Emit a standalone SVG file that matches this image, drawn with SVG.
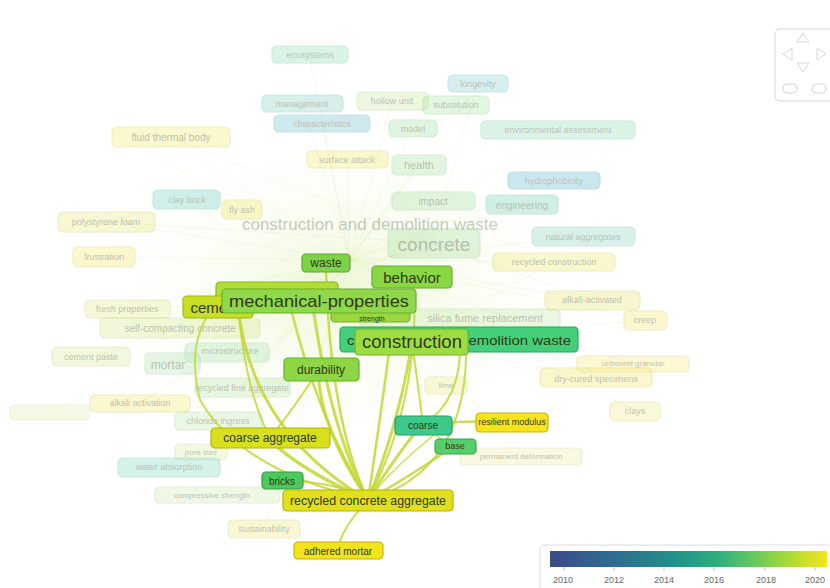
<svg xmlns="http://www.w3.org/2000/svg" width="830" height="588" viewBox="0 0 830 588">
<defs>
<style>
text{font-family:"Liberation Sans",Arial,sans-serif;fill:#2f3a12;text-anchor:middle;dominant-baseline:central}
.f{opacity:0.32}
.n rect,.f rect{stroke-width:1.2}
.bg line,.bg path{stroke:#d3e8a4;stroke-width:0.7;fill:none;opacity:0.3}
.e path{fill:none;stroke:#c3d733;opacity:0.85;stroke-linecap:round}
.nav{fill:none;stroke:#d6d6d6;stroke-width:1}
.lg text{fill:#666;font-size:9px}
</style>
<linearGradient id="vir" x1="0" x2="1" y1="0" y2="0">
<stop offset="0" stop-color="#3b4a8a"/>
<stop offset="0.15" stop-color="#33618d"/>
<stop offset="0.3" stop-color="#2a788e"/>
<stop offset="0.45" stop-color="#21918c"/>
<stop offset="0.6" stop-color="#2cae7e"/>
<stop offset="0.72" stop-color="#5ec662"/>
<stop offset="0.86" stop-color="#a8db34"/>
<stop offset="1" stop-color="#f4e61e"/>
</linearGradient>
<radialGradient id="haze" cx="0.5" cy="0.5" r="0.5">
<stop offset="0" stop-color="#e2f2b8" stop-opacity="0.6"/>
<stop offset="1" stop-color="#ffffff" stop-opacity="0"/>
</radialGradient>
</defs>
<rect width="830" height="588" fill="#ffffff"/>
<ellipse cx="340" cy="290" rx="260" ry="170" fill="url(#haze)"/>
<g id="background-links" class="bg">
<line x1="350" y1="260" x2="309" y2="54"/><line x1="350" y1="260" x2="478" y2="84"/>
<line x1="350" y1="260" x2="302" y2="103"/><line x1="350" y1="260" x2="392" y2="101"/>
<line x1="350" y1="260" x2="456" y2="105"/><line x1="350" y1="260" x2="322" y2="124"/>
<line x1="350" y1="260" x2="413" y2="128"/><line x1="350" y1="260" x2="558" y2="130"/>
<line x1="350" y1="260" x2="171" y2="137"/><line x1="350" y1="260" x2="347" y2="160"/>
<line x1="350" y1="260" x2="419" y2="165"/><line x1="350" y1="260" x2="554" y2="181"/>
<line x1="350" y1="260" x2="187" y2="200"/><line x1="350" y1="260" x2="522" y2="205"/>
<line x1="350" y1="260" x2="106" y2="222"/><line x1="350" y1="260" x2="583" y2="237"/>
<line x1="350" y1="260" x2="554" y2="262"/><line x1="350" y1="260" x2="104" y2="257"/>
<line x1="350" y1="260" x2="127" y2="309"/><line x1="350" y1="260" x2="180" y2="328"/>
<line x1="350" y1="260" x2="592" y2="300"/><line x1="350" y1="260" x2="645" y2="320"/>
<line x1="350" y1="260" x2="91" y2="357"/><line x1="350" y1="260" x2="172" y2="364"/>
<line x1="350" y1="260" x2="242" y2="388"/><line x1="350" y1="260" x2="140" y2="403"/>
<line x1="350" y1="260" x2="218" y2="421"/><line x1="350" y1="260" x2="169" y2="467"/>
<line x1="350" y1="260" x2="217" y2="495"/><line x1="350" y1="260" x2="264" y2="529"/>
<line x1="350" y1="260" x2="633" y2="364"/><line x1="350" y1="260" x2="596" y2="378"/>
<line x1="350" y1="260" x2="635" y2="411"/><line x1="350" y1="260" x2="521" y2="456"/>
<line x1="430" y1="243" x2="171" y2="137"/><line x1="430" y1="243" x2="106" y2="222"/>
<line x1="430" y1="243" x2="309" y2="54"/><line x1="430" y1="243" x2="180" y2="328"/>
<line x1="430" y1="243" x2="592" y2="300"/><line x1="430" y1="243" x2="478" y2="84"/>
<line x1="310" y1="300" x2="127" y2="309"/><line x1="310" y1="300" x2="91" y2="357"/>
<line x1="310" y1="300" x2="242" y2="388"/><line x1="310" y1="300" x2="140" y2="403"/>
<line x1="410" y1="342" x2="596" y2="378"/><line x1="410" y1="342" x2="633" y2="364"/>
<line x1="410" y1="342" x2="645" y2="320"/><line x1="410" y1="342" x2="554" y2="262"/>
<line x1="50" y1="412" x2="300" y2="300"/><line x1="130" y1="137" x2="240" y2="210"/>
</g>
<g id="faded-nodes">
<g id="n-ecosystems" class="f"><rect x="272" y="46" width="76" height="17" rx="5" fill="#8ddcac" stroke="#6cc290"/><text x="310" y="55" font-size="9">ecosystems</text></g>
<g id="n-longevity" class="f"><rect x="448" y="75" width="60" height="17" rx="5" fill="#7fcfd0" stroke="#5fb3b5"/><text x="478" y="84" font-size="9">longevity</text></g>
<g id="n-management" class="f"><rect x="262" y="95" width="81" height="17" rx="5" fill="#7fd3c0" stroke="#5fb7a3"/><text x="302" y="104" font-size="9">management</text></g>
<g id="n-hollow" class="f"><rect x="357" y="92" width="71" height="18" rx="5" fill="#c8e69a" stroke="#a8cc78"/><text x="392" y="101" font-size="9">hollow unit</text></g>
<g id="n-substitution" class="f"><rect x="423" y="96" width="66" height="18" rx="5" fill="#a6e4a0" stroke="#86c880"/><text x="456" y="105" font-size="9">substitution</text></g>
<g id="n-characteristics" class="f"><rect x="274" y="115" width="96" height="17" rx="5" fill="#6cc0c8" stroke="#4ea4ad"/><text x="322" y="124" font-size="9">characteristics</text></g>
<g id="n-model" class="f"><rect x="389" y="120" width="48" height="17" rx="5" fill="#a0e2a0" stroke="#80c680"/><text x="413" y="129" font-size="9">model</text></g>
<g id="n-environmental" class="f"><rect x="481" y="121" width="154" height="18" rx="5" fill="#90dcb8" stroke="#70c09a"/><text x="558" y="130" font-size="9">environmental assessment</text></g>
<g id="n-fluid" class="f"><rect x="112" y="127" width="118" height="20" rx="5" fill="#f2ea6a" stroke="#d2ca4a"/><text x="171" y="137" font-size="10">fluid thermal body</text></g>
<g id="n-surface" class="f"><rect x="307" y="151" width="81" height="17" rx="5" fill="#f2ea6a" stroke="#d2ca4a"/><text x="347" y="160" font-size="9">surface attack</text></g>
<g id="n-health" class="f"><rect x="392" y="155" width="54" height="20" rx="5" fill="#a4e4a4" stroke="#84c884"/><text x="419" y="165" font-size="11">health</text></g>
<g id="n-hydrophobicity" class="f"><rect x="508" y="172" width="92" height="17" rx="5" fill="#5fb6cc" stroke="#4098ae"/><text x="554" y="181" font-size="9">hydrophobicity</text></g>
<g id="n-claybrick" class="f"><rect x="153" y="190" width="67" height="19" rx="5" fill="#6ccfc0" stroke="#50b3a4"/><text x="187" y="200" font-size="9">clay brick</text></g>
<g id="n-engineering" class="f"><rect x="486" y="195" width="72" height="19" rx="5" fill="#70d2b6" stroke="#52b698"/><text x="522" y="205" font-size="10">engineering</text></g>
<g id="n-impact" class="f"><rect x="392" y="192" width="83" height="18" rx="5" fill="#a6e2a0" stroke="#86c680"/><text x="433" y="201" font-size="10">impact</text></g>
<g id="n-flyash" class="f"><rect x="222" y="200" width="40" height="19" rx="5" fill="#eee85a" stroke="#cec83a"/><text x="242" y="210" font-size="9">fly ash</text></g>
<g id="n-polystyrene" class="f"><rect x="58" y="212" width="97" height="20" rx="5" fill="#e8e878" stroke="#c8c858"/><text x="106" y="222" font-size="9">polystyrene foam</text></g>
<g id="n-cdw-text" class="f"><text x="370" y="224" font-size="17" fill="#5d8a20" opacity="0.8">construction and demolition waste</text></g>
<g id="n-concrete" class="f"><rect x="388" y="229" width="92" height="29" rx="6" fill="#a2e09c" stroke="#80c47c"/><text x="434" y="244" font-size="19">concrete</text></g>
<g id="n-natural" class="f"><rect x="532" y="227" width="103" height="19" rx="5" fill="#86d6c0" stroke="#66baa2"/><text x="583" y="237" font-size="9">natural aggregates</text></g>
<g id="n-recycled-construction" class="f"><rect x="493" y="253" width="122" height="18" rx="5" fill="#eeea66" stroke="#cecb46"/><text x="554" y="262" font-size="9">recycled construction</text></g>
<g id="n-frustration" class="f"><rect x="73" y="247" width="62" height="20" rx="5" fill="#f4e868" stroke="#d4c848"/><text x="104" y="257" font-size="9">frustration</text></g>
<g id="n-fresh" class="f"><rect x="85" y="300" width="85" height="18" rx="5" fill="#e4ec84" stroke="#c4cc64"/><text x="127" y="309" font-size="9">fresh properties</text></g>
<g id="n-scc" class="f"><rect x="100" y="318" width="160" height="20" rx="5" fill="#d4ea8c" stroke="#b4ca6c"/><text x="180" y="328" font-size="10">self-compacting concrete</text></g>
<g id="n-silica" class="f"><rect x="360" y="309" width="200" height="19" rx="5" fill="#c4e8a4" stroke="#a4c884"/><text x="485" y="318" font-size="11">silica fume replacement</text></g>
<g id="n-alkali" class="f"><rect x="545" y="291" width="95" height="19" rx="5" fill="#eae56a" stroke="#cac54a"/><text x="592" y="300" font-size="9">alkali-activated</text></g>
<g id="n-creep" class="f"><rect x="624" y="311" width="43" height="19" rx="5" fill="#f4e868" stroke="#d4c848"/><text x="645" y="320" font-size="9">creep</text></g>
<g id="n-paste" class="f"><rect x="52" y="347" width="78" height="19" rx="5" fill="#d8ec9c" stroke="#b8cc7c"/><text x="91" y="357" font-size="9">cement paste</text></g>
<g id="n-microstructure" class="f"><rect x="185" y="343" width="84" height="19" rx="5" fill="#a6e4b0" stroke="#86c890"/><text x="230" y="351" font-size="9">microstructure</text></g>
<g id="n-mortar" class="f"><rect x="145" y="353" width="55" height="21" rx="5" fill="#b2e4b0" stroke="#92c890"/><text x="168" y="365" font-size="12">mortar</text></g>
<g id="n-rfa" class="f"><rect x="195" y="378" width="95" height="19" rx="5" fill="#b8e6a8" stroke="#98ca88"/><text x="242" y="388" font-size="9">recycled fine aggregate</text></g>
<g id="n-activation" class="f"><rect x="90" y="395" width="100" height="17" rx="5" fill="#f4e868" stroke="#d4c848"/><text x="140" y="403" font-size="9">alkali activation</text></g>
<g id="n-pavement" class="f"><rect x="10" y="405" width="80" height="15" rx="5" fill="#e2f0b8" stroke="#c8dc98"/></g>
<g id="n-chloride" class="f"><rect x="175" y="412" width="87" height="18" rx="5" fill="#c0e8b0" stroke="#a0c890"/><text x="218" y="421" font-size="9">chloride ingress</text></g>
<g id="n-pore" class="f"><rect x="175" y="444" width="52" height="16" rx="5" fill="#dcee9c" stroke="#bcce7c"/><text x="201" y="452" font-size="8">pore size</text></g>
<g id="n-water" class="f"><rect x="118" y="458" width="102" height="19" rx="5" fill="#7cd4c0" stroke="#5cb8a2"/><text x="169" y="467" font-size="9">water absorption</text></g>
<g id="n-compressive" class="f"><rect x="155" y="487" width="125" height="16" rx="5" fill="#cceab0" stroke="#accc90"/><text x="212" y="495" font-size="8">compressive strength</text></g>
<g id="n-sustainability" class="f"><rect x="228" y="520" width="72" height="18" rx="5" fill="#f0ea7c" stroke="#d0ca5c"/><text x="264" y="529" font-size="9">sustainability</text></g>
<g id="n-unbound" class="f"><rect x="577" y="356" width="112" height="16" rx="5" fill="#f4ec7a" stroke="#d4cc5a"/><text x="633" y="363" font-size="8">unbound granular</text></g>
<g id="n-drycured" class="f"><rect x="540" y="368" width="112" height="19" rx="5" fill="#f2e86a" stroke="#d2c84a"/><text x="596" y="379" font-size="9">dry-cured specimens</text></g>
<g id="n-clay2" class="f"><rect x="610" y="402" width="50" height="19" rx="5" fill="#f4ec84" stroke="#d4cc64"/><text x="635" y="411" font-size="9">clays</text></g>
<g id="n-permanent" class="f"><rect x="460" y="448" width="122" height="17" rx="5" fill="#eeeca0" stroke="#cecc80"/><text x="521" y="456" font-size="8">permanent deformation</text></g>
<g id="n-stabilization" class="f"><rect x="425" y="377" width="42" height="17" rx="5" fill="#eeea8c" stroke="#cecc6c"/><text x="446" y="385" font-size="8">lime</text></g>
</g>
<g id="connectors" class="e">
<path d="M368 500 Q330 430 312 300" stroke-width="3"/>
<path d="M368 500 Q318 420 290 305" stroke-width="2.5"/>
<path d="M368 500 Q250 430 238 305" stroke-width="3"/>
<path d="M368 500 Q240 470 200 400 Q185 340 215 306" stroke-width="2"/>
<path d="M368 500 Q300 470 270 440" stroke-width="3.5"/>
<path d="M368 500 Q330 480 290 482" stroke-width="2"/>
<path d="M368 500 Q320 430 318 370" stroke-width="3"/>
<path d="M368 500 Q330 420 326 270" stroke-width="2.5"/>
<path d="M368 500 Q400 420 412 342" stroke-width="3"/>
<path d="M368 500 Q380 420 390 345" stroke-width="2.5"/>
<path d="M368 500 Q420 400 414 280" stroke-width="2"/>
<path d="M368 500 Q400 450 420 427" stroke-width="3"/>
<path d="M368 500 Q420 470 452 447" stroke-width="2.5"/>
<path d="M368 500 Q470 470 466 340" stroke-width="2"/>
<path d="M368 500 Q340 530 338 550" stroke-width="2"/>
<path d="M368 500 Q390 470 440 430" stroke-width="1.5"/>
<path d="M423 425 Q460 420 500 422" stroke-width="2.5"/>
<path d="M423 425 Q440 440 455 446" stroke-width="1.5"/>
<path d="M412 342 Q420 400 423 425" stroke-width="2"/>
<path d="M460 342 Q462 400 423 425" stroke-width="2"/>
<path d="M238 305 Q245 390 270 438" stroke-width="2"/>
<path d="M318 370 Q300 400 270 438" stroke-width="2"/>
</g>
<g id="nodes">
<g id="n-waste" class="n"><rect x="302" y="254" width="48" height="18" rx="4" fill="#7ed24a" stroke="#5aa82e"/><text x="326" y="263" font-size="12">waste</text></g>
<g id="n-behavior" class="n"><rect x="372" y="266" width="80" height="22" rx="4" fill="#8ad744" stroke="#64ad2c"/><text x="412" y="277" font-size="15">behavior</text></g>
<g id="n-recycled-aggregate" class="n"><rect x="216" y="282" width="122" height="18" rx="4" fill="#b2dc36" stroke="#8cb41e"/></g>
<g id="n-cement" class="n"><rect x="183" y="296" width="70" height="22" rx="4" fill="#c6df22" stroke="#9fb814"/><text x="215" y="307" font-size="15">cement</text></g>
<g id="n-strength" class="n"><rect x="331" y="305" width="79" height="17" rx="4" fill="#9ed640" stroke="#78ae28"/><text x="372" y="318" font-size="7">strength</text></g>
<g id="n-mechanical" class="n"><rect x="222" y="289" width="194" height="24" rx="4" fill="#8fd849" stroke="#68ae2e"/><text x="319" y="301" font-size="17" textLength="180" lengthAdjust="spacingAndGlyphs">mechanical-properties</text></g>
<g id="n-cdw" class="n"><rect x="340" y="327" width="238" height="25" rx="4" fill="#43cf7a" stroke="#28a85a"/><text x="459" y="340" font-size="13" textLength="224" lengthAdjust="spacingAndGlyphs">construction and demolition waste</text></g>
<g id="n-construction" class="n"><rect x="355" y="329" width="113" height="26" rx="4" fill="#9edc44" stroke="#74b22a"/><text x="412" y="342" font-size="18" textLength="100" lengthAdjust="spacingAndGlyphs">construction</text></g>
<g id="n-durability" class="n"><rect x="284" y="358" width="75" height="23" rx="4" fill="#8ed646" stroke="#68ae2c"/><text x="321" y="370" font-size="12">durability</text></g>
<g id="n-coarse" class="n"><rect x="395" y="416" width="57" height="19" rx="4" fill="#3cc98a" stroke="#24a06a"/><text x="423" y="425" font-size="10">coarse</text></g>
<g id="n-resilient" class="n"><rect x="476" y="413" width="72" height="19" rx="4" fill="#f7e31c" stroke="#c8b40c"/><text x="512" y="422" font-size="9">resilient modulus</text></g>
<g id="n-base" class="n"><rect x="435" y="439" width="41" height="15" rx="4" fill="#55cf69" stroke="#36a84c"/><text x="455" y="446" font-size="9">base</text></g>
<g id="n-coarse-aggregate" class="n"><rect x="211" y="428" width="119" height="20" rx="4" fill="#d8df1c" stroke="#adb40c"/><text x="270" y="438" font-size="12">coarse aggregate</text></g>
<g id="n-bricks" class="n"><rect x="262" y="472" width="41" height="17" rx="4" fill="#4ec75c" stroke="#329e40"/><text x="282" y="481" font-size="10">bricks</text></g>
<g id="n-rca" class="n"><rect x="283" y="490" width="170" height="21" rx="4" fill="#e2e01c" stroke="#b4b20c"/><text x="368" y="501" font-size="12" textLength="156" lengthAdjust="spacingAndGlyphs">recycled concrete aggregate</text></g>
<g id="n-adhered" class="n"><rect x="294" y="542" width="89" height="17" rx="4" fill="#f3e31a" stroke="#c4b40a"/><text x="338" y="551" font-size="10">adhered mortar</text></g>
</g>
<g id="navigation">
<rect x="775" y="29" width="60" height="72" rx="5" class="nav"/>
<polygon points="803,33 797,42 809,42" class="nav"/>
<polygon points="783,54 792,48 792,60" class="nav"/>
<polygon points="826,54 817,48 817,60" class="nav"/>
<polygon points="803,72 797,63 809,63" class="nav"/>
<rect x="783" y="84" width="14" height="9" rx="4" class="nav"/>
<rect x="812" y="84" width="14" height="9" rx="4" class="nav"/>
</g>
<g id="legend" class="lg">
<rect x="540" y="545" width="300" height="50" rx="5" fill="#ffffff" stroke="#dedede"/>
<rect x="550" y="551" width="277" height="16" fill="url(#vir)"/>
<g stroke="#555" stroke-width="0.6" opacity="0.6">
<line x1="564" y1="567" x2="564" y2="571"/><line x1="614" y1="567" x2="614" y2="571"/><line x1="664" y1="567" x2="664" y2="571"/><line x1="714" y1="567" x2="714" y2="571"/><line x1="765" y1="567" x2="765" y2="571"/><line x1="815" y1="567" x2="815" y2="571"/>
</g>
<text x="563" y="580">2010</text><text x="614" y="580">2012</text><text x="664" y="580">2014</text><text x="714" y="580">2016</text><text x="766" y="580">2018</text><text x="815" y="580">2020</text>
</g>
</svg>
